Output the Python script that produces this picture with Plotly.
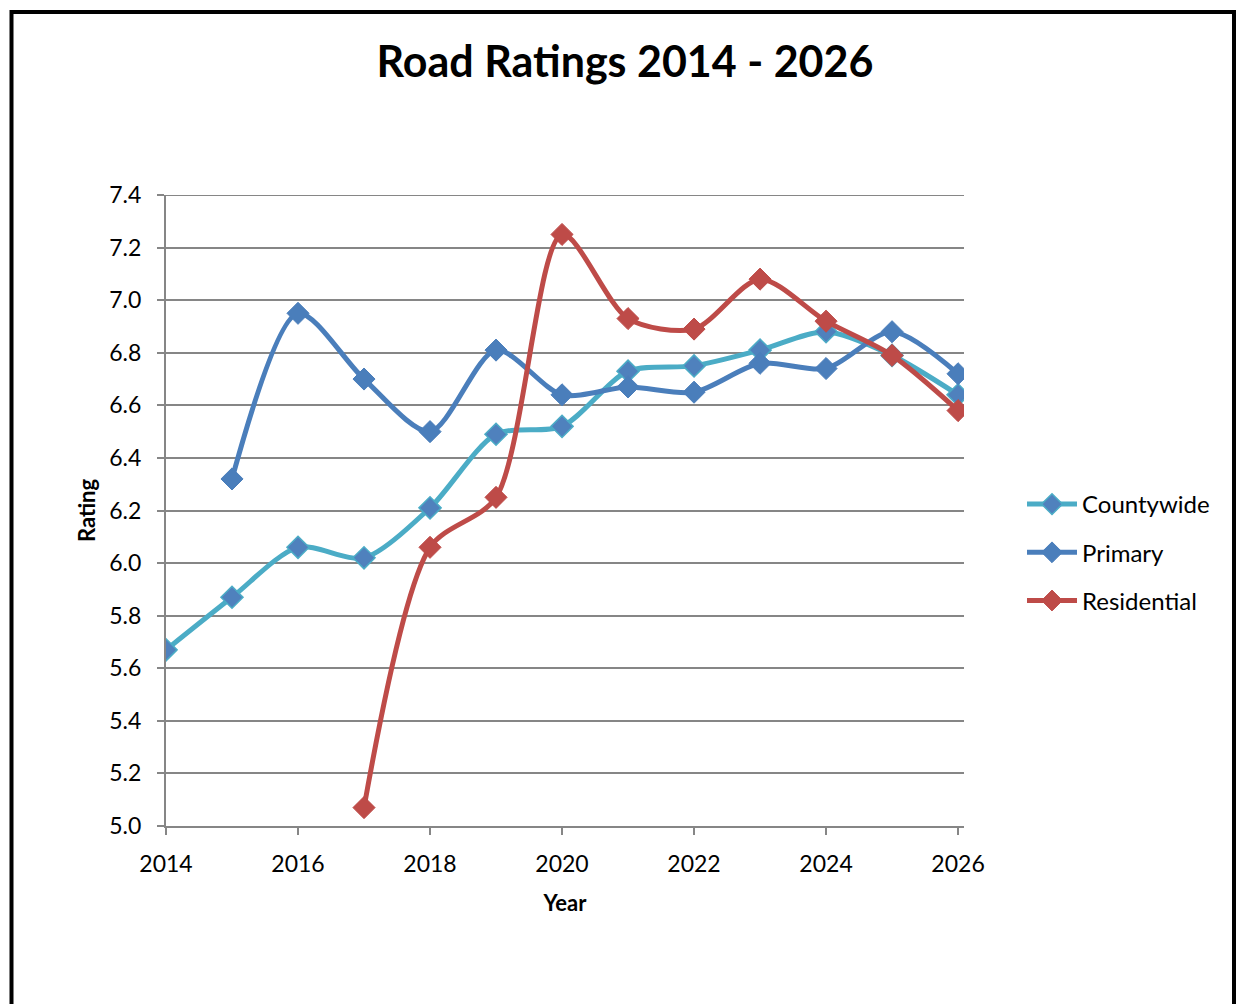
import plotly.graph_objects as go

years_cw = [2014, 2015, 2016, 2017, 2018, 2019, 2020, 2021, 2022, 2023, 2024, 2025, 2026]
countywide = [5.67, 5.87, 6.06, 6.02, 6.21, 6.49, 6.52, 6.73, 6.75, 6.81, 6.88, 6.79, 6.64]

years_pr = [2015, 2016, 2017, 2018, 2019, 2020, 2021, 2022, 2023, 2024, 2025, 2026]
primary = [6.32, 6.95, 6.70, 6.50, 6.81, 6.64, 6.67, 6.65, 6.76, 6.74, 6.88, 6.72]

years_re = [2017, 2018, 2019, 2020, 2021, 2022, 2023, 2024, 2025, 2026]
residential = [5.07, 6.06, 6.25, 7.25, 6.93, 6.89, 7.08, 6.92, 6.79, 6.58]

x_ticks = [2014, 2016, 2018, 2020, 2022, 2024, 2026]

W, H = 1238, 1004
L, R, T, B = 166, 964, 195, 826

FONT = "Lato"
GRID = "#868686"

fig = go.Figure()
fig.add_trace(go.Scatter(
    x=years_cw, y=countywide, name="Countywide", mode="lines+markers", legendgroup="a",
    line=dict(color="#4BACC6", width=5, shape="spline", smoothing=0.8),
    marker=dict(symbol="diamond", size=17, color="#4F81BD", line=dict(color="#4BACC6", width=1.5)),
))
fig.add_trace(go.Scatter(
    x=years_pr, y=primary, name="Primary", mode="lines+markers", legendgroup="b",
    line=dict(color="#4A7EBB", width=5, shape="spline", smoothing=0.8),
    marker=dict(symbol="diamond", size=17, color="#4A7EBB", line=dict(color="#4A7EBB", width=1)),
))
fig.add_trace(go.Scatter(
    x=years_re, y=residential, name="Residential", mode="lines+markers", legendgroup="c",
    line=dict(color="#BE4B48", width=5, shape="spline", smoothing=0.8),
    marker=dict(symbol="diamond", size=17, color="#BE4B48", line=dict(color="#BE4B48", width=1)),
))

pw = R - L
ph = B - T
fig.add_shape(type="rect", xref="paper", yref="paper",
              x0=(11.5 - L) / pw, x1=(1234 - L) / pw,
              y0=(B - 1030) / ph, y1=(B - 12) / ph,
              line=dict(color="black", width=4), fillcolor="rgba(0,0,0,0)", layer="below")
# top gridline at 7.4
fig.add_shape(type="line", xref="paper", yref="y", x0=0, x1=1, y0=7.4, y1=7.4,
              line=dict(color=GRID, width=2), layer="below")

fig.update_layout(
    width=W, height=H,
    margin=dict(l=L, r=W - R, t=T, b=H - B),
    paper_bgcolor="white", plot_bgcolor="white",
    font=dict(family=FONT, size=22, color="black"),
    title=dict(text="<b>Road Ratings 2014 - 2026</b>", x=625 / W, xanchor="center",
               xref="container", y=1 - 62 / H, yanchor="middle",
               font=dict(family=FONT, size=43, color="black")),
    showlegend=True,
    legend=dict(x=(1022 - L) / pw, y=(B - 482) / ph, xanchor="left", yanchor="top",
                font=dict(family=FONT, size=24, color="black"),
                itemwidth=50, tracegroupgap=14, bgcolor="rgba(0,0,0,0)"),
    xaxis=dict(range=[2014, 2026.09], tickmode="array", tickvals=x_ticks,
               ticks="outside", ticklen=7, tickcolor=GRID, tickwidth=2,
               showline=True, linecolor=GRID, linewidth=2,
               showgrid=False, zeroline=False, ticklabelstandoff=9,
               title=dict(text="<b>Year</b>", font=dict(family=FONT, size=22), standoff=20),
               tickfont=dict(family=FONT, size=23)),
    yaxis=dict(range=[5.0, 7.4], tick0=5.0, dtick=0.2, tickformat=".1f",
               ticks="outside", ticklen=7, tickcolor=GRID, tickwidth=2,
               showline=True, linecolor=GRID, linewidth=2,
               showgrid=True, gridcolor=GRID, gridwidth=2, zeroline=False,
               ticklabelstandoff=11,
               title=dict(text="<b>Rating</b>", font=dict(family=FONT, size=22), standoff=8),
               tickfont=dict(family=FONT, size=23)),
)

fig.write_html("out.html", config=dict(displayModeBar=False),
               post_script="document.body.style.margin='0';document.body.style.overflow='hidden';")
